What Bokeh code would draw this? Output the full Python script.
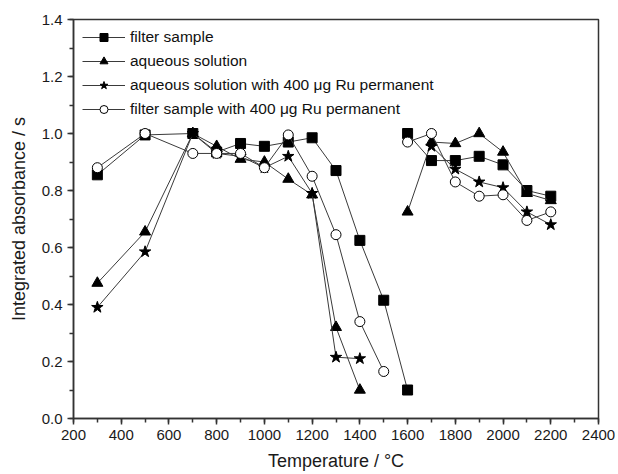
import numpy as np
from bokeh.plotting import figure
from bokeh.models import Legend, LegendItem, FixedTicker, NumeralTickFormatter, ColumnDataSource
from bokeh.embed import file_html
from bokeh.resources import INLINE

nan = float("nan")

# Temperatures (°C); NaN separates the two measurement runs
t_filter = [300, 500, 700, 800, 900, 1000, 1100, 1200, 1300, 1400, 1500, 1600, nan,
            1600, 1700, 1800, 1900, 2000, 2100, 2200]
v_filter = [0.855, 0.995, 1.0, 0.935, 0.965, 0.955, 0.97, 0.985, 0.87, 0.625, 0.415, 0.10, nan,
            1.0, 0.905, 0.905, 0.92, 0.89, 0.80, 0.78]

t_aq = [300, 500, 700, 800, 900, 1000, 1100, 1200, 1300, 1400, nan,
        1600, 1700, 1800, 1900, 2000, 2100, 2200]
v_aq = [0.475, 0.655, 1.0, 0.955, 0.91, 0.90, 0.84, 0.785, 0.32, 0.10, nan,
        0.725, 0.97, 0.965, 1.0, 0.935, 0.79, 0.765]

t_aq_ru = [300, 500, 700, 800, 900, 1000, 1100, 1200, 1300, 1400, nan,
           1700, 1800, 1900, 2000, 2100, 2200]
v_aq_ru = [0.39, 0.585, 1.0, 0.93, 0.92, 0.88, 0.92, 0.79, 0.215, 0.21, nan,
           0.955, 0.875, 0.83, 0.81, 0.725, 0.68]

t_fi_ru = [300, 500, 700, 800, 900, 1000, 1100, 1200, 1300, 1400, 1500, nan,
           1600, 1700, 1800, 1900, 2000, 2100, 2200]
v_fi_ru = [0.88, 1.0, 0.93, 0.93, 0.93, 0.88, 0.995, 0.85, 0.645, 0.34, 0.165, nan,
           0.97, 1.0, 0.83, 0.78, 0.785, 0.695, 0.725]

x_ticks = [200, 400, 600, 800, 1000, 1200, 1400, 1600, 1800, 2000, 2200, 2400]
y_ticks = [0.0, 0.2, 0.4, 0.6, 0.8, 1.0, 1.2, 1.4]

FONT = "Liberation Sans"
LINE = "#3a3a3a"

p = figure(frame_width=525, frame_height=399, output_backend="svg", toolbar_location=None,
           x_range=(200, 2400), y_range=(0, 1.4),
           min_border_left=73, min_border_right=17, min_border_top=19, min_border_bottom=54)
p.xgrid.visible = False
p.ygrid.visible = False
p.background_fill_color = "white"
p.outline_line_color = "#333333"
p.outline_line_width = 1.5

for ax in (p.xaxis[0], p.yaxis[0]):
    ax.axis_line_color = "#333333"
    ax.axis_line_width = 1.5
    ax.major_tick_line_color = "#333333"
    ax.minor_tick_line_color = "#333333"
    ax.major_tick_line_width = 1.5
    ax.minor_tick_line_width = 1.5
    ax.major_tick_out = 6
    ax.major_tick_in = 0
    ax.minor_tick_out = 4
    ax.minor_tick_in = 0
    ax.major_label_text_font = FONT
    ax.major_label_text_font_size = "15px"
    ax.major_label_text_color = "#1a1a1a"
    ax.axis_label_text_font = FONT
    ax.axis_label_text_font_size = "18px"
    ax.axis_label_text_font_style = "normal"
    ax.axis_label_text_color = "#1a1a1a"

p.xaxis.ticker = FixedTicker(ticks=x_ticks, minor_ticks=list(range(200, 2401, 100)))
p.yaxis.ticker = FixedTicker(ticks=y_ticks, minor_ticks=[round(i * 0.1, 1) for i in range(15)])
p.yaxis.formatter = NumeralTickFormatter(format="0.0")
p.xaxis.axis_label = "Temperature / °C"
p.yaxis.axis_label = "Integrated absorbance / s"
p.xaxis.major_label_standoff = 5
p.yaxis.major_label_standoff = 5
p.xaxis.axis_label_standoff = 8
p.yaxis.axis_label_standoff = 10

items = []

def series(t, v, marker, label, size, fill):
    src = ColumnDataSource(dict(x=t, y=v))
    ln = p.line("x", "y", source=src, line_color=LINE, line_width=1)
    mk = p.scatter("x", "y", source=src, marker=marker, size=size,
                   fill_color=fill, line_color="black", line_width=1)
    items.append(LegendItem(label=label, renderers=[ln, mk]))

series(t_filter, v_filter, "square", "filter sample", 10, "black")
series(t_aq, v_aq, "triangle", "aqueous solution", 11, "black")
series(t_aq_ru, v_aq_ru, "star", "aqueous solution with 400 μg Ru permanent", 12, "black")
series(t_fi_ru, v_fi_ru, "circle", "filter sample with 400 μg Ru permanent", 10, "white")

legend = Legend(items=items, location=(5, 295), border_line_alpha=0,
                background_fill_alpha=0, glyph_width=43, glyph_height=20,
                label_text_font=FONT, label_text_font_size="15.5px",
                label_text_color="#111111", spacing=4, padding=4, margin=0,
                label_standoff=5)
p.add_layout(legend)

open("out.html", "w").write(file_html(p, INLINE))
